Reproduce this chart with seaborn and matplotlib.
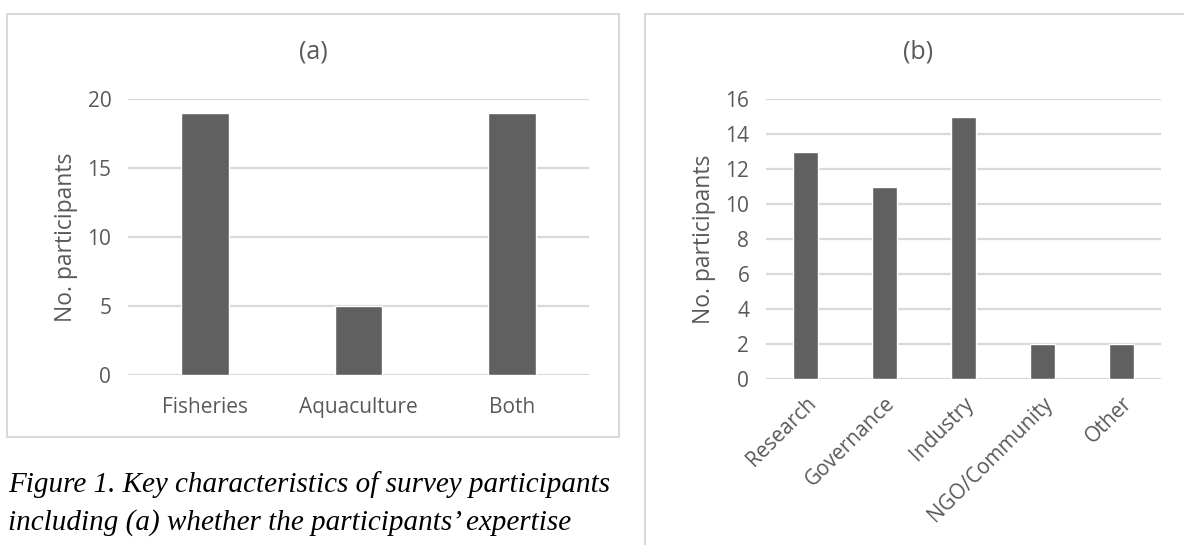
import matplotlib
matplotlib.use("Agg")
import matplotlib.pyplot as plt
from matplotlib.patches import Rectangle
import seaborn as sns
import pandas as pd

# panel (a): area of expertise
expertise = ["Fisheries", "Aquaculture", "Both"]
expertise_n = [19, 5, 19]

# panel (b): sector
sectors = ["Research", "Governance", "Industry", "NGO/Community", "Other"]
sector_n = [13, 11, 15, 2, 2]

caption_lines = [
    "Figure 1. Key characteristics of survey participants",
    "including (a) whether the participants\u2019 expertise",
]

W, H = 1184, 545
sns.set_theme(style="white")
plt.rcParams["font.family"] = ["Open Sans", "DejaVu Sans"]

bar_color = "#606060"
grid_color = "#d9d9d9"
text_color = "#595959"

fig = plt.figure(figsize=(W / 100, H / 100), dpi=100)


def px_box(x0, y0, x1, y1):
    # pixel box (top-left origin) -> figure fraction rect
    return [x0 / W, 1 - y1 / H, (x1 - x0) / W, (y1 - y0) / H]


# panel frames
frames = [(7, 14, 619, 437), (645, 14, 1191, 560)]
for x0, y0, x1, y1 in frames:
    fig.patches.append(Rectangle((x0 / W, 1 - y1 / H), (x1 - x0) / W, (y1 - y0) / H,
                                 transform=fig.transFigure, fill=False,
                                 edgecolor=grid_color, linewidth=1.5))


def style_axis(ax, ymax, step):
    ax.set_ylim(0, ymax)
    ax.set_yticks(range(0, ymax + 1, step))
    ax.yaxis.grid(True, color=grid_color, linewidth=1.6)
    ax.set_axisbelow(True)
    sns.despine(ax=ax, left=True, bottom=True)
    ax.tick_params(axis="both", length=0, labelsize=15, labelcolor=text_color)
    ax.tick_params(axis="y", pad=12)
    ax.set_xlabel("")
    ax.set_ylabel("No. participants", fontsize=16.5, color=text_color, labelpad=7)


# (a)
ax1 = fig.add_axes(px_box(128, 99, 589, 375))
df_a = pd.DataFrame({"cat": expertise, "n": expertise_n})
sns.barplot(data=df_a, x="cat", y="n", ax=ax1, color=bar_color, width=0.31,
            saturation=1)
style_axis(ax1, 20, 5)
ax1.tick_params(axis="x", pad=16)

# (b)
ax2 = fig.add_axes(px_box(766, 99, 1161, 379))
df_b = pd.DataFrame({"cat": sectors, "n": sector_n})
sns.barplot(data=df_b, x="cat", y="n", ax=ax2, color=bar_color, width=0.32,
            saturation=1)
style_axis(ax2, 16, 2)
ax2.tick_params(axis="x", pad=10)
plt.setp(ax2.get_xticklabels(), rotation=45, ha="right", rotation_mode="anchor")

# panel titles, centred on their frames
for (x0, y0, x1, y1), label in zip(frames, ["(a)", "(b)"]):
    fig.text((x0 + x1) / 2 / W, 1 - 52 / H, label, fontsize=18, color=text_color,
             ha="center", va="center")

# caption
for i, line in enumerate(caption_lines):
    fig.text(8 / W, 1 - (485 + 38 * i) / H, line, family="Liberation Serif",
             style="italic", fontsize=21, color="black", va="center", ha="left")

fig.savefig("out.png", dpi=100)
